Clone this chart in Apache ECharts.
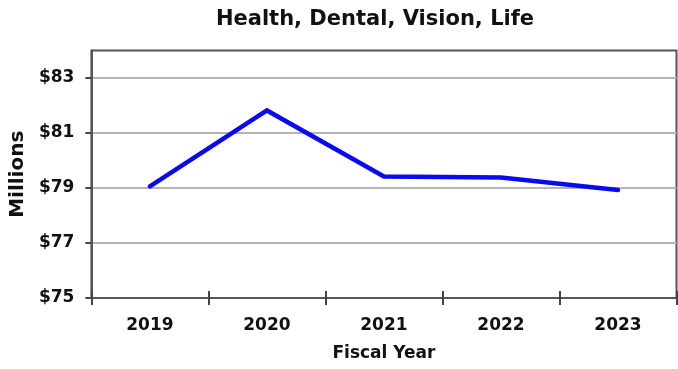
<!DOCTYPE html>
<html>
<head>
<meta charset="utf-8">
<style>
  html, body { margin: 0; padding: 0; background: #fff; }
  #chart { width: 678px; height: 369px; }
</style>
<script src="https://cdn.jsdelivr.net/npm/echarts@6/dist/echarts.min.js"></script>
</head>
<body>
<div id="chart"></div>
<script>
// Fiscal years and spending (in millions of dollars)
const years = ['2019', '2020', '2021', '2022', '2023'];
const spending = [79.06, 81.82, 79.42, 79.38, 78.93];

// Value axis range, step and labelled values
const yMin = 75;
const yMax = 84;
const yStep = 2;
const yTicks = [75, 77, 79, 81, 83];

const font = 'DejaVu Sans';
const chart = echarts.init(document.getElementById('chart'));

chart.setOption({
  animation: false,
  title: {
    text: 'Health, Dental, Vision, Life',
    left: 370,
    top: 4,
    textAlign: 'center',
    textStyle: { fontFamily: font, fontWeight: 'bold', fontSize: 21, color: '#111' }
  },
  grid: {
    left: 90.5, right: 1.5, top: 50.5, bottom: 71,
    show: true,
    borderColor: '#555',
    borderWidth: 2
  },
  xAxis: [{
    type: 'category',
    data: years,
    boundaryGap: true,
    name: 'Fiscal Year',
    nameLocation: 'middle',
    nameGap: 47,
    nameTextStyle: { fontFamily: font, fontWeight: 'bold', fontSize: 17, color: '#111' },
    axisLine: { lineStyle: { color: '#555', width: 2 } },
    axisTick: { show: true, length: 7, lineStyle: { color: '#444', width: 2 } },
    axisLabel: { margin: 19, fontFamily: font, fontWeight: 'bold', fontSize: 17, color: '#111' }
  }, {
    // inner half of the category ticks, so they cross the axis line
    type: 'category',
    data: years,
    position: 'bottom',
    offset: 0,
    boundaryGap: true,
    axisLine: { show: false },
    axisTick: { show: true, inside: true, length: 7, lineStyle: { color: '#444', width: 2 } },
    axisLabel: { show: false },
    splitLine: { show: false }
  }],
  yAxis: {
    type: 'value',
    min: yMin,
    max: yMax,
    interval: yStep,
    name: 'Millions',
    nameLocation: 'middle',
    nameRotate: 90,
    nameGap: 62,
    nameTextStyle: { fontFamily: font, fontWeight: 'bold', fontSize: 20, color: '#111' },
    axisLine: { show: true, lineStyle: { color: '#555', width: 2 } },
    axisTick: { show: true, length: 6, customValues: yTicks, lineStyle: { color: '#444', width: 2 } },
    axisLabel: {
      margin: 17,
      customValues: yTicks,
      fontFamily: font, fontWeight: 'bold', fontSize: 17, color: '#111',
      formatter: v => '$' + v
    },
    splitLine: {
      show: true,
      lineStyle: { color: ['#b4b4b4', '#b4b4b4', '#b4b4b4', '#b4b4b4', '#b4b4b4', '#555'], width: 2 }
    }
  },
  series: [{
    type: 'line',
    data: spending,
    symbol: 'none',
    lineStyle: { color: '#0a0af0', width: 4.5, cap: 'round', join: 'miter' }
  }]
});
</script>
</body>
</html>
